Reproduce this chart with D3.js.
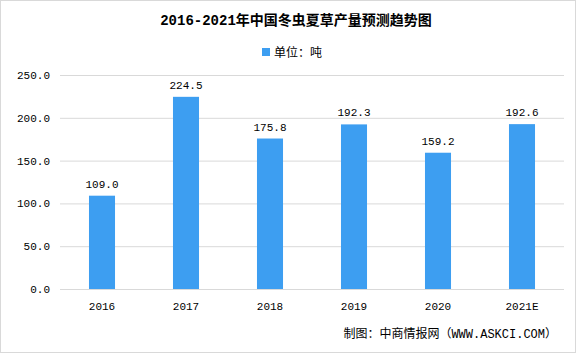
<!DOCTYPE html>
<html><head><meta charset="utf-8">
<script src="https://cdn.jsdelivr.net/npm/d3@7"></script>
<style>body{margin:0;background:#fff}svg{display:block}</style>
</head><body>
<script>
const categories = ["2016","2017","2018","2019","2020","2021E"];
const values = [109.0,224.5,175.8,192.3,159.2,192.6];
const yTicks = [0,50,100,150,200,250];
const title = "2016-2021年中国冬虫夏草产量预测趋势图";
const legendLabel = "单位：吨";
const source = "制图：中商情报网（WWW.ASKCI.COM）";

const W=576,H=353;
const svg=d3.select("body").append("svg").attr("width",W).attr("height",H);
svg.append("rect").attr("x",0.5).attr("y",0.5).attr("width",W-1).attr("height",H-1).attr("fill","#fff").attr("stroke","#d9d9d9");
const font="'Liberation Mono','Noto Sans CJK SC',monospace";
const x=d3.scaleBand().domain(categories).range([60,564]).paddingInner(0.69).paddingOuter(0.345);
const y=d3.scaleLinear().domain([0,250]).range([289,75]);

const g=svg.append("g");
g.selectAll("line.grid").data(yTicks).join("line").attr("class","grid")
 .attr("x1",60).attr("x2",564).attr("y1",d=>y(d)+0.5).attr("y2",d=>y(d)+0.5)
 .attr("stroke","#d9d9d9").attr("stroke-width",1);
g.selectAll("text.yt").data(yTicks).join("text").attr("class","yt")
 .attr("x",50).attr("y",d=>y(d)+4).attr("text-anchor","end")
 .attr("font-family",font).attr("font-size",11).attr("fill","#000")
 .text(d=>d3.format(".1f")(d));
g.selectAll("rect.bar").data(values).join("rect").attr("class","bar")
 .attr("x",(d,i)=>x(categories[i])).attr("width",x.bandwidth())
 .attr("y",d=>y(d)).attr("height",d=>y(0)-y(d)).attr("fill","#3d9ef1");
g.selectAll("text.lbl").data(values).join("text").attr("class","lbl")
 .attr("x",(d,i)=>x(categories[i])+x.bandwidth()/2).attr("y",d=>y(d)-8)
 .attr("text-anchor","middle").attr("font-family",font).attr("font-size",11).attr("fill","#000")
 .text(d=>d3.format(".1f")(d));
g.selectAll("text.xt").data(categories).join("text").attr("class","xt")
 .attr("x",d=>x(d)+x.bandwidth()/2).attr("y",310).attr("text-anchor","middle")
 .attr("font-family",font).attr("font-size",11).attr("fill","#000").text(d=>d);

svg.append("text").attr("x",296).attr("y",25).attr("text-anchor","middle")
 .attr("font-family",font).attr("font-weight","bold").attr("font-size",14).attr("fill","#000").text(title);
svg.append("rect").attr("x",262).attr("y",48).attr("width",8).attr("height",8).attr("fill","#3d9ef1");
svg.append("text").attr("x",274).attr("y",57).attr("font-family",font).attr("font-size",12).attr("fill","#000").text(legendLabel);
svg.append("text").attr("x",557).attr("y",338).attr("text-anchor","end")
 .attr("font-family",font).attr("font-size",12).attr("fill","#000").text(source);
</script>
</body></html>
